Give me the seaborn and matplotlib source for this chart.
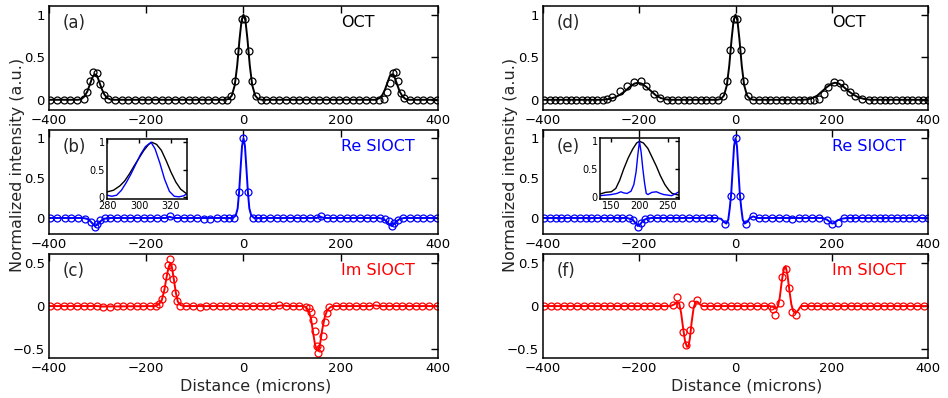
import matplotlib
matplotlib.use("Agg")
import matplotlib.pyplot as plt
from matplotlib.ticker import FuncFormatter
import seaborn as sns

sns.set_style("white")
plt.rcParams["font.family"] = ["DejaVu Sans"]

# ---------------- (a) OCT, left column ----------------
a_line_x = [-400, -340, -333, -327, -321, -316, -311, -306, -301, -296, -291, -286, -280, -272,
            -38, -30, -24, -18, -13, -8, -4, 0, 4, 8, 13, 18, 24, 30, 38,
            272, 280, 286, 291, 296, 301, 306, 311, 316, 321, 327, 333, 340, 400]
a_line_y = [0, 0, 0.01, 0.04, 0.1, 0.18, 0.26, 0.3, 0.28, 0.2, 0.12, 0.06, 0.02, 0,
            0, 0.01, 0.05, 0.17, 0.4, 0.72, 0.93, 1.0, 0.93, 0.72, 0.4, 0.17, 0.05, 0.01, 0,
            0, 0.02, 0.06, 0.12, 0.2, 0.28, 0.3, 0.26, 0.18, 0.1, 0.04, 0.01, 0, 0]
a_mark_x = [-398, -384, -370, -356, -342, -328, -321, -315, -309, -301, -295, -287, -278,
            -264, -250, -237, -223, -209, -196, -182, -168, -155, -141, -127, -113, -100, -86, -72, -58, -45, -33,
            -25, -17, -10.5, -4, 4, 10.5, 17, 25,
            35, 47, 60, 74, 88, 101, 115, 129, 142, 156, 170, 184, 197, 211, 225, 238, 252, 266, 279,
            289, 295, 301, 307, 313, 318, 324, 330,
            342, 356, 370, 384, 398]
a_mark_y = [0, 0, 0, 0, 0, 0.01, 0.09, 0.22, 0.33, 0.31, 0.18, 0.06, 0.01,
            0, 0, 0, 0, 0, 0, 0, 0, 0, 0, 0, 0, 0, 0, 0, 0, 0, 0,
            0.05, 0.22, 0.57, 0.95, 0.95, 0.57, 0.22, 0.05,
            0, 0, 0, 0, 0, 0, 0, 0, 0, 0, 0, 0, 0, 0, 0, 0, 0, 0, 0,
            0.01, 0.09, 0.2, 0.32, 0.33, 0.22, 0.08, 0.02,
            0, 0, 0, 0, 0]

# ---------------- (b) Re SIOCT, left column ----------------
b_line_x = [-400, -330, -322, -315, -309, -305, -300, -294, -287, -278, -160, -152, -144,
            -30, -22, -16, -12, -9, -6, -3, 0, 3, 6, 9, 12, 16, 22, 30,
            150, 158, 166, 278, 287, 294, 300, 305, 309, 315, 322, 330, 400]
b_line_y = [0, 0, -0.01, -0.04, -0.08, -0.1, -0.08, -0.04, -0.01, 0, 0, 0.015, 0,
            0, 0, 0.03, 0.12, 0.33, 0.62, 0.9, 1.0, 0.9, 0.62, 0.33, 0.12, 0.03, 0, 0,
            0, 0.015, 0, 0, -0.01, -0.04, -0.08, -0.1, -0.08, -0.04, -0.01, 0, 0]
b_mark_x = [-398, -383, -368, -354, -340, -326, -314, -306, -302, -295, -285,
            -274, -260, -246, -233, -219, -205, -192, -178, -164, -151, -137, -123, -110, -96, -82, -68, -55, -41, -29,
            -20, -9, 0, 9, 20,
            29, 41, 55, 68, 82, 96, 110, 123, 137, 151, 160, 171, 185, 198, 212, 226, 240, 253, 267, 281,
            292, 299, 306, 310, 318, 328,
            342, 356, 370, 384, 398]
b_mark_y = [0, 0, 0, 0, 0, -0.01, -0.05, -0.11, -0.07, -0.03, 0,
            0, 0, 0, 0, 0, 0, 0, 0, 0, 0.02, 0, 0, 0, 0, -0.01, -0.01, 0, 0, 0,
            0, 0.33, 1.0, 0.33, 0,
            0, 0, 0, 0, 0, 0, 0, 0, 0, 0, 0.02, 0, 0, 0, 0, 0, 0, 0, 0, 0,
            -0.01, -0.04, -0.1, -0.06, -0.02, 0,
            0, 0, 0, 0, 0]

# ---------------- (c) Im SIOCT, left column ----------------
c_line_x = [-400, -300, -290, -182, -174, -168, -163, -158, -154, -151, -147, -143, -139, -135, -129, -121,
            70, 80, 90, 121, 128, 134, 139, 143, 147, 151, 154, 158, 162, 167, 172, 179, 187,
            260, 270, 280, 400]
c_line_y = [0, 0, -0.005, 0, 0.02, 0.07, 0.18, 0.34, 0.45, 0.49, 0.44, 0.3, 0.15, 0.05, 0.01, 0,
            0, 0.008, 0, 0, -0.01, -0.05, -0.15, -0.3, -0.44, -0.51, -0.51, -0.42, -0.27, -0.13, -0.05, -0.01, 0,
            0, 0.008, 0, 0]
c_mark_x = [-398, -384, -370, -356, -342, -329, -315, -301, -288, -274, -260, -247, -233, -219, -206, -192, -180,
            -173, -168, -163, -159, -156, -152, -148, -144, -140, -136, -130,
            -118, -104, -90, -77, -63, -49, -36, -22, -8, 5, 19, 33, 46, 60, 74, 88, 101, 115, 128,
            134, 139, 143, 147, 151, 154, 158, 163, 167, 171, 176,
            190, 204, 218, 231, 245, 259, 272, 286, 300, 313, 327, 341, 354, 368, 382, 398]
c_mark_y = [0, 0, 0, 0, 0, 0, 0, 0, -0.01, -0.01, 0, 0, 0, 0, 0, 0, 0,
            0.02, 0.08, 0.2, 0.35, 0.48, 0.54, 0.45, 0.31, 0.15, 0.06, 0,
            0, 0, -0.01, 0, 0, 0, 0, 0, 0, 0, 0, 0, 0, 0, 0.01, 0, 0, 0, -0.01,
            -0.02, -0.07, -0.16, -0.29, -0.46, -0.54, -0.49, -0.35, -0.18, -0.08, -0.01,
            0, 0, 0, 0, 0, 0, 0.01, 0, 0, 0, 0, 0, 0, 0, 0, 0]

# ---------------- (d) OCT, right column ----------------
d_line_x = [-400, -275, -262, -250, -240, -230, -220, -210, -203, -195, -185, -175, -165, -155, -145, -135,
            -38, -30, -24, -18, -13, -8, -4, 0, 4, 8, 13, 18, 24, 30, 38,
            140, 150, 160, 170, 180, 190, 200, 207, 215, 225, 235, 245, 255, 267, 280, 400]
d_line_y = [0, 0, 0.01, 0.03, 0.06, 0.1, 0.15, 0.19, 0.2, 0.19, 0.15, 0.1, 0.05, 0.02, 0.005, 0,
            0, 0.01, 0.05, 0.17, 0.4, 0.72, 0.93, 1.0, 0.93, 0.72, 0.4, 0.17, 0.05, 0.01, 0,
            0, 0.005, 0.02, 0.05, 0.1, 0.15, 0.19, 0.2, 0.19, 0.15, 0.1, 0.06, 0.03, 0.01, 0, 0]
d_mark_x = [-397, -386, -375, -364, -353, -342, -331, -320, -309, -298, -287, -276, -266,
            -256, -239, -225, -211, -197, -185, -170, -156,
            -143, -131, -119, -108, -96, -84, -72, -61, -49, -37,
            -26, -18.5, -11, -4, 4, 11, 18.5, 26,
            37, 49, 61, 72, 84, 96, 108, 119, 131, 143, 155, 164,
            173, 183, 192, 204, 217, 225, 238, 249, 263,
            277, 288, 300, 311, 322, 333, 345, 356, 367, 379, 390, 400]
d_mark_y = [0, 0, 0, 0, 0, 0, 0, 0, 0, 0, 0, 0, 0.01,
            0.03, 0.1, 0.16, 0.21, 0.22, 0.16, 0.07, 0.02,
            0, 0, 0, 0, 0, 0, 0, 0, 0, 0,
            0.05, 0.22, 0.58, 0.95, 0.95, 0.58, 0.22, 0.05,
            0, 0, 0, 0, 0, 0, 0, 0, 0, 0, 0, 0,
            0.01, 0.07, 0.15, 0.21, 0.2, 0.15, 0.09, 0.04, 0.01,
            0, 0, 0, 0, 0, 0, 0, 0, 0, 0, 0, 0]

# ---------------- (e) Re SIOCT, right column ----------------
e_line_x = [-400, -225, -214, -208, -203, -198, -192, -185, -175,
            -40, -30, -24, -19, -15, -12, -9, -6, -3, 0, 3, 6, 9, 12, 15, 19, 24, 30, 37, 45,
            180, 190, 196, 201, 206, 212, 220, 230, 400]
e_line_y = [0, 0, -0.02, -0.06, -0.1, -0.08, -0.03, -0.01, 0,
            0, -0.01, -0.05, -0.07, -0.02, 0.12, 0.3, 0.6, 0.9, 1.0, 0.9, 0.6, 0.3, 0.12, -0.02, -0.07, -0.05, 0, 0.02, 0,
            0, -0.02, -0.05, -0.07, -0.06, -0.03, -0.01, 0, 0]
e_mark_x = [-398, -386, -374, -362, -350, -336, -323, -311, -300, -287, -273, -260, -247, -235, -222,
            -212, -203, -197, -189,
            -177, -163, -150, -136, -123, -111, -97, -83, -69, -55, -44,
            -21, -10, 0, 10, 21, 37,
            48, 62, 76, 90, 104, 118, 132, 145, 159, 173,
            190, 201, 213,
            225, 237, 249, 263, 275, 287, 300, 311, 323, 336, 348, 360, 374, 388, 400]
e_mark_y = [0, 0, 0, 0, 0, 0, 0, 0, 0, 0, 0, 0, 0, 0, 0,
            -0.02, -0.11, -0.06, -0.01,
            0, 0, 0, 0, 0, 0, 0, 0, 0, 0, 0,
            -0.07, 0.27, 1.0, 0.27, -0.07, 0.02,
            0, 0, 0, 0, 0, -0.01, 0, 0, 0, 0,
            -0.03, -0.08, -0.06,
            0, 0, 0, 0, 0, 0, 0, 0, 0, 0, 0, 0, 0, 0, 0]

# ---------------- (f) Im SIOCT, right column ----------------
f_line_x = [-400, -135, -127, -121, -117, -113, -109, -105, -101, -98, -95, -91, -87, -83, -79, -74, -68,
            72, 78, 83, 88, 92, 96, 100, 104, 108, 112, 116, 120, 125, 130, 136, 400]
f_line_y = [0, 0, 0.02, 0.05, 0.03, -0.08, -0.25, -0.4, -0.47, -0.47, -0.38, -0.18, -0.02, 0.05, 0.05, 0.02, 0,
            0, -0.01, -0.03, -0.01, 0.1, 0.28, 0.42, 0.46, 0.36, 0.18, 0.02, -0.06, -0.08, -0.05, 0, 0]
f_mark_x = [-398, -384, -370, -356, -343, -329, -315, -301, -287, -273, -260, -246, -232, -218, -204, -190,
            -177, -163, -149,
            -129, -122.5, -116, -109, -102, -95, -90, -81,
            -66, -52, -38, -24, -10, 3.5, 17, 31, 45, 59, 73,
            78, 83, 92, 97.6, 104, 110.7, 117.6, 126,
            142, 156, 170, 184, 197, 211, 225, 239, 253, 266, 280, 294, 308, 322, 335, 349, 363, 377, 391]
f_mark_y = [0, 0, 0, 0, 0, 0, 0, 0, 0, 0, 0, 0, 0, 0, 0, 0,
            0, 0, 0,
            0.01, 0.1, 0.01, -0.3, -0.45, -0.28, 0.02, 0.07,
            0, 0, 0, 0, 0, 0, 0, 0, 0, 0, 0,
            -0.03, -0.1, 0.03, 0.33, 0.43, 0.21, -0.07, -0.1,
            0, 0, 0, 0, 0, 0, 0, 0, 0, 0, 0, 0, 0, 0, 0, 0, 0, 0, 0]

# ---------------- insets: zoom on one side peak ----------------
inb_x_oct = [280, 284, 288, 291, 294, 297, 300, 303, 306, 308, 311, 314, 317, 320, 323, 326, 330]
inb_y_oct = [0.09, 0.12, 0.2, 0.29, 0.42, 0.57, 0.71, 0.85, 0.96, 1.0, 0.96, 0.85, 0.66, 0.45, 0.27, 0.14, 0.05]
inb_x_re = [280, 283, 286, 289, 292, 295, 298, 301, 304, 307.5, 310, 313, 316, 319, 322, 325, 328, 330]
inb_y_re = [0.03, 0.01, 0.03, 0.12, 0.26, 0.42, 0.6, 0.78, 0.92, 1.0, 0.88, 0.62, 0.32, 0.1, 0.01, 0.0, 0.02, 0.06]

ine_x_oct = [130, 140, 150, 158, 165, 172, 180, 188, 195, 200, 207, 215, 222, 230, 237, 245, 252, 258, 265, 270]
ine_y_oct = [0.05, 0.08, 0.09, 0.15, 0.3, 0.5, 0.7, 0.86, 0.97, 1.0, 0.97, 0.87, 0.72, 0.55, 0.38, 0.22, 0.12,
             0.06, 0.04, 0.03]
ine_x_re = [130, 140, 150, 160, 167, 172, 178, 185, 190, 194, 197, 200, 203, 206, 209, 212, 215, 222, 230, 237,
            243, 250, 257, 263, 270]
ine_y_re = [0.02, 0.03, 0.04, 0.06, 0.09, 0.07, 0.06, 0.1, 0.22, 0.45, 0.75, 1.0, 0.8, 0.5, 0.25, 0.06, 0.04,
            0.08, 0.09, 0.06, 0.04, 0.03, 0.02, 0.05, 0.09]

x_ticks = [-400, -200, 0, 200, 400]
BLACK, BLUE, RED = "#000000", "#0000ff", "#ff0000"

fig = plt.figure(figsize=(9.48, 3.98), dpi=100)


def fmt_num(v, _pos=None):
    s = "%g" % v
    return s.replace("-", "\u2212")


def style_axes(ax, fs=9.5, length=5):
    ax.tick_params(direction="in", top=True, right=True, length=length, width=1,
                   labelsize=fs, pad=3, colors="black")
    for sp in ax.spines.values():
        sp.set_linewidth(1.1)
        sp.set_color("black")
    ax.yaxis.set_major_formatter(FuncFormatter(fmt_num))
    ax.xaxis.set_major_formatter(FuncFormatter(fmt_num))


def draw_panel(rect, lx, ly, mx, my, color, ylim, yticks, tag, title):
    ax = fig.add_axes(rect)
    sns.lineplot(x=lx, y=ly, ax=ax, color=color, lw=1.4, estimator=None, sort=False)
    sns.lineplot(x=mx, y=my, ax=ax, color=color, estimator=None, sort=False, linestyle="none",
                 marker="o", markersize=5, markerfacecolor="none", markeredgecolor=color,
                 markeredgewidth=0.9)
    ax.set_xlim(-400, 400)
    ax.set_ylim(*ylim)
    ax.set_xticks(x_ticks)
    ax.set_yticks(yticks)
    ax.set_xlabel("")
    ax.set_ylabel("")
    style_axes(ax)
    ax.text(0.035, 0.84, tag, transform=ax.transAxes, fontsize=12, va="center", ha="left")
    ax.text(0.75, 0.84, title, transform=ax.transAxes, fontsize=11.5, va="center", ha="left",
            color=color)
    return ax


def draw_inset(rect, x1, y1, x2, y2, xlim, xticks):
    ax = fig.add_axes(rect)
    sns.lineplot(x=x1, y=y1, ax=ax, color=BLACK, lw=1.0, estimator=None, sort=False)
    sns.lineplot(x=x2, y=y2, ax=ax, color=BLUE, lw=1.0, estimator=None, sort=False)
    ax.set_xlim(*xlim)
    ax.set_ylim(-0.04, 1.06)
    ax.set_xticks(xticks)
    ax.set_yticks([0, 0.5, 1])
    ax.set_xlabel("")
    ax.set_ylabel("")
    style_axes(ax, fs=7, length=3)
    ax.tick_params(pad=1.5)
    return ax


L, W = 0.0517, 0.4103
R, WR = 0.5728, 0.4061
H = 0.261
rows = [0.7236, 0.4121, 0.1005]

draw_panel([L, rows[0], W, H], a_line_x, a_line_y, a_mark_x, a_mark_y, BLACK, (-0.12, 1.1), [0, 0.5, 1], "(a)", "OCT")
draw_panel([L, rows[1], W, H], b_line_x, b_line_y, b_mark_x, b_mark_y, BLUE, (-0.2, 1.1), [0, 0.5, 1], "(b)", "Re SIOCT")
axc = draw_panel([L, rows[2], W, H], c_line_x, c_line_y, c_mark_x, c_mark_y, RED, (-0.6, 0.6), [-0.5, 0, 0.5], "(c)", "Im SIOCT")
draw_panel([R, rows[0], WR, H], d_line_x, d_line_y, d_mark_x, d_mark_y, BLACK, (-0.12, 1.1), [0, 0.5, 1], "(d)", "OCT")
draw_panel([R, rows[1], WR, H], e_line_x, e_line_y, e_mark_x, e_mark_y, BLUE, (-0.2, 1.1), [0, 0.5, 1], "(e)", "Re SIOCT")
axf = draw_panel([R, rows[2], WR, H], f_line_x, f_line_y, f_mark_x, f_mark_y, RED, (-0.6, 0.6), [-0.5, 0, 0.5], "(f)", "Im SIOCT")

draw_inset([0.1129, 0.5, 0.0844, 0.1508], inb_x_oct, inb_y_oct, inb_x_re, inb_y_re, (280, 330), [280, 300, 320])
draw_inset([0.6329, 0.5, 0.0833, 0.1533], ine_x_oct, ine_y_oct, ine_x_re, ine_y_re, (130, 270), [150, 200, 250])

for ax_bottom in (axc, axf):
    ax_bottom.set_xlabel("Distance (microns)", fontsize=11.5, labelpad=1)
    ax_bottom.xaxis.set_label_coords(0.53, -0.2)

fig.text(0.018, 0.585, "Normalized intensity (a.u.)", rotation=90, fontsize=11.5, ha="center", va="center")
fig.text(0.538, 0.585, "Normalized intensity (a.u.)", rotation=90, fontsize=11.5, ha="center", va="center")

fig.savefig("out.png", dpi=100)
